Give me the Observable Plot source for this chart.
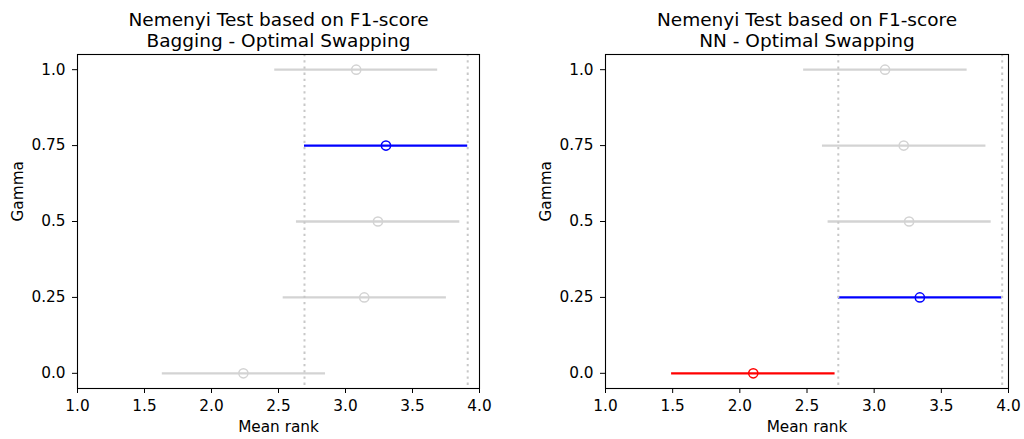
<!DOCTYPE html>
<html>
<head>
<meta charset="utf-8">
<script src="https://cdn.jsdelivr.net/npm/d3@7"></script>
<script src="https://cdn.jsdelivr.net/npm/@observablehq/plot@0.6"></script>
<style>
  html, body { margin: 0; padding: 0; background: #fff; }
  #wrap { display: flex; width: 1024px; height: 439px; }
  svg { display: block; }
</style>
</head>
<body>
<div id="wrap"></div>
<script>
const gammas = [0.0, 0.25, 0.5, 0.75, 1.0];
const gammaLabels = ["0.0", "0.25", "0.5", "0.75", "1.0"];
const xTicks = [1.0, 1.5, 2.0, 2.5, 3.0, 3.5, 4.0];

// Bagging - Optimal Swapping
const bagMean = [2.238, 3.140, 3.242, 3.302, 3.080];
const bagLo   = [1.633, 2.535, 2.634, 2.694, 2.472];
const bagHi   = [2.851, 3.753, 3.853, 3.912, 3.688];
const bagColor = ["lightgray", "lightgray", "lightgray", "blue", "lightgray"];
const bagBounds = [2.694, 3.912];

// NN - Optimal Swapping
const nnMean = [2.100, 3.340, 3.260, 3.220, 3.081];
const nnLo   = [1.492, 2.734, 2.657, 2.615, 2.475];
const nnHi   = [2.709, 3.951, 3.871, 3.832, 3.692];
const nnColor = ["red", "blue", "lightgray", "lightgray", "lightgray"];
const nnBounds = [2.733, 3.953];

function rows(mean, lo, hi, color) {
  return gammas.map((g, i) => ({gamma: g, mean: mean[i], lo: lo[i], hi: hi[i], color: color[i]}));
}

const FONT = "DejaVu Sans, sans-serif";
const TICK_FS = 15.3;
const TITLE_FS = 18.5;

function panel(title, data, bounds, ml, mr, ylabDx) {
  return Plot.plot({
    width: 512,
    height: 439,
    marginLeft: ml,
    marginRight: mr,
    marginTop: 54,
    marginBottom: 51,
    style: {fontFamily: FONT, color: "#000", background: "#fff", overflow: "visible"},
    x: {domain: [1, 4], ticks: xTicks, tickFormat: d3.format(".1f")},
    y: {domain: [-0.05, 1.05], ticks: gammas, tickFormat: (d) => gammaLabels[gammas.indexOf(d)]},
    color: {type: "identity"},
    marks: [
      Plot.ruleY(data, {y: "gamma", x1: "lo", x2: "hi", stroke: "color", strokeWidth: 2.3}),
      Plot.dot(data, {x: "mean", y: "gamma", r: 4.6, stroke: "color", strokeWidth: 1.5, fill: "none"}),
      Plot.ruleX(bounds, {x: (d) => d, stroke: "#c8c8c8", strokeWidth: 2, strokeDasharray: "2.3,3.9"}),
      Plot.frame({stroke: "#000", strokeWidth: 1.1}),
      Plot.axisX({ticks: xTicks, tickFormat: d3.format(".1f"), tickSize: 5, tickPadding: 7, fontSize: TICK_FS, label: null}),
      Plot.axisY({ticks: gammas, tickFormat: (d) => gammaLabels[gammas.indexOf(d)], tickSize: 5, tickPadding: 7, fontSize: TICK_FS, label: null}),
      Plot.text(["Mean rank"], {frameAnchor: "bottom", dy: 33, lineAnchor: "top", fontSize: TICK_FS, fill: "#000"}),
      Plot.text(["Gamma"], {frameAnchor: "left", dx: ylabDx, rotate: -90, fontSize: TICK_FS, fill: "#000"}),
      Plot.text([title], {frameAnchor: "top", dy: -43, lineAnchor: "top", fontSize: TITLE_FS, lineHeight: 1.135, fill: "#000"})
    ]
  });
}

const wrap = document.getElementById("wrap");
wrap.appendChild(panel("Nemenyi Test based on F1-score\nBagging - Optimal Swapping",
  rows(bagMean, bagLo, bagHi, bagColor), bagBounds, 77, 33, -59));
wrap.appendChild(panel("Nemenyi Test based on F1-score\nNN - Optimal Swapping",
  rows(nnMean, nnLo, nnHi, nnColor), nnBounds, 93, 16, -59));
</script>
</body>
</html>
